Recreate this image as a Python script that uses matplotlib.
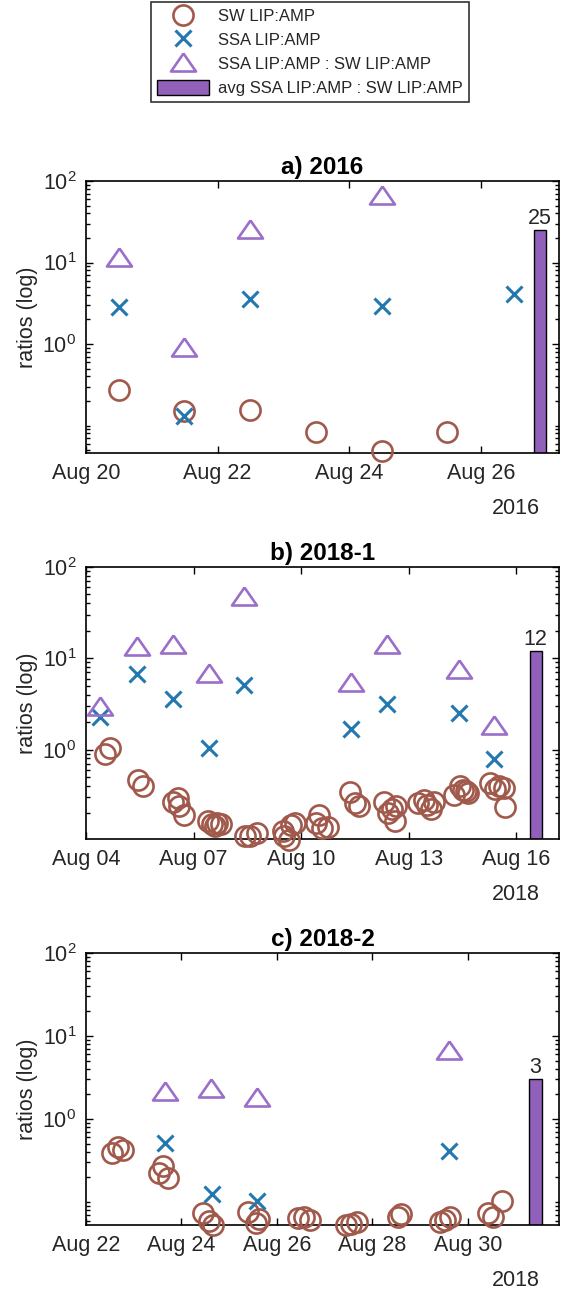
from matplotlib import pyplot as plt
from matplotlib import dates as mdates
from matplotlib.lines import Line2D
from matplotlib.patches import Patch
from matplotlib.ticker import FixedLocator, LogLocator, LogFormatterSciNotation, NullFormatter
import datetime as dt

plt.rcParams['font.family'] = ['Liberation Sans', 'DejaVu Sans']
plt.rcParams['mathtext.fontset'] = 'custom'
plt.rcParams['mathtext.rm'] = 'Liberation Sans'
plt.rcParams['mathtext.it'] = 'Liberation Sans'

# All days are fractional days of August
# a) 2016
swDays2016 = [20.50, 21.49, 22.50, 23.49, 24.50, 25.49]
swRatios2016 = [0.27, 0.15, 0.154, 0.084, 0.048, 0.084]
ssaDays2016 = [20.50, 21.49, 22.50, 24.50, 26.50]
ssaRatios2016 = [2.85, 0.132, 3.53, 2.93, 4.06]
enrichDays2016 = [20.50, 21.49, 22.50, 24.50]
enrichRatios2016 = [11.6, 0.91, 25.6, 68.0]
avgEnrich2016 = 25
tickDays2016 = [20, 22, 24, 26]

# b) 2018-1
swDays2018a = [4.53, 4.67, 5.44, 5.59, 6.42, 6.56, 6.59, 6.74,
               7.39, 7.52, 7.59, 7.66, 7.77, 8.43, 8.58, 8.76,
               9.48, 9.53, 9.66, 9.73, 9.83, 10.42, 10.50, 10.57, 10.75,
               11.37, 11.50, 11.62, 12.32, 12.42, 12.52, 12.65, 12.62,
               13.27, 13.42, 13.50, 13.61, 13.70, 14.26, 14.43, 14.51, 14.59, 14.66,
               15.26, 15.41, 15.51, 15.66, 15.69]
swRatios2018a = [0.90, 1.03, 0.46, 0.40, 0.27, 0.296, 0.24, 0.194,
                 0.164, 0.155, 0.147, 0.157, 0.153, 0.114, 0.112, 0.122,
                 0.127, 0.112, 0.103, 0.151, 0.157, 0.157, 0.19, 0.139, 0.141,
                 0.34, 0.26, 0.24, 0.27, 0.203, 0.224, 0.244, 0.164,
                 0.26, 0.28, 0.25, 0.224, 0.265, 0.32, 0.40, 0.365, 0.35, 0.335,
                 0.43, 0.37, 0.40, 0.38, 0.236]
ssaDays2018a = [4.40, 5.42, 6.42, 7.44, 8.41, 11.40, 12.40, 14.39, 15.39]
ssaRatios2018a = [2.26, 6.74, 3.62, 1.03, 5.15, 1.70, 3.19, 2.52, 0.78]
enrichDays2018a = [4.40, 5.42, 6.42, 7.44, 8.41, 11.40, 12.40, 14.39, 15.39]
enrichRatios2018a = [2.98, 13.5, 14.5, 6.9, 47.7, 5.46, 14.4, 7.64, 1.88]
avgEnrich2018a = 12
tickDays2018a = [4, 7, 10, 13, 16]

# c) 2018-2
swDays2018b = [22.55, 22.67, 22.77, 23.53, 23.61, 23.71, 24.45, 24.57, 24.67,
               25.39, 25.56, 25.63, 26.44, 26.56, 26.70, 27.45, 27.56, 27.67,
               28.53, 28.60, 29.41, 29.52, 29.63, 30.42, 30.53, 30.72]
swRatios2018b = [0.39, 0.46, 0.42, 0.227, 0.274, 0.194, 0.074, 0.060, 0.053,
                 0.077, 0.056, 0.062, 0.064, 0.066, 0.061, 0.053, 0.055, 0.057,
                 0.066, 0.072, 0.057, 0.061, 0.066, 0.074, 0.066, 0.104]
ssaDays2018b = [23.65, 24.64, 25.58, 29.60]
ssaRatios2018b = [0.51, 0.125, 0.102, 0.41]
enrichDays2018b = [23.65, 24.62, 25.58, 29.60]
enrichRatios2018b = [2.19, 2.36, 1.82, 6.84]
avgEnrich2018b = 3
tickDays2018b = [22, 24, 26, 28, 30]

swColor = '#a0594b'
ssaColor = '#2478b0'
enrichColor = '#9b6fc9'
barColor = '#9160ba'
textColor = '#262626'

triangle = [(0, 0.72), (-1, -0.72), (1, -0.72), (0, 0.72)]


def toDates(year, days):
    start = dt.datetime(year, 8, 1)
    return [mdates.date2num(start + dt.timedelta(days=d - 1)) for d in days]


def chartCruise(ax, year, title, swDays, swRatios, ssaDays, ssaRatios,
                enrichDays, enrichRatios, avgEnrich, barDay, barWidth,
                tickDays, dayRange, yMin):
    ax.plot(toDates(year, swDays), swRatios, ls='none', marker='o', ms=14.5,
            mfc='none', mec=swColor, mew=1.9, clip_on=False, zorder=3)
    ax.plot(toDates(year, ssaDays), ssaRatios, ls='none', marker='x', ms=11,
            mec=ssaColor, mew=2.2, clip_on=False, zorder=3)
    ax.plot(toDates(year, enrichDays), enrichRatios, ls='none', marker=triangle,
            ms=18, mfc='none', mec=enrichColor, mew=1.9, clip_on=False, zorder=3)

    # average enrichment bar, standing on the bottom of the log axis
    barX = toDates(year, [barDay])[0]
    ax.bar(barX, avgEnrich, width=barWidth, bottom=1e-3, color=barColor,
           edgecolor='black', linewidth=1.0, zorder=2)
    ax.annotate(f'{avgEnrich:g}', (barX, avgEnrich), xytext=(0, 1),
                textcoords='offset points', ha='center', va='bottom',
                fontsize=15.5, color=textColor)

    ax.set_yscale('log')
    ax.set_ylim(yMin, 100)
    ax.yaxis.set_major_locator(FixedLocator([1, 10, 100]))
    ax.yaxis.set_major_formatter(LogFormatterSciNotation())
    ax.yaxis.set_minor_locator(LogLocator(base=10, subs=range(1, 10), numticks=20))
    ax.yaxis.set_minor_formatter(NullFormatter())

    start, end = toDates(year, dayRange)
    ax.set_xlim(start, end)
    ax.xaxis.set_major_locator(FixedLocator(toDates(year, tickDays)))
    ax.xaxis.set_major_formatter(mdates.DateFormatter('%b %d'))

    ax.tick_params(which='both', direction='in', top=True, right=True,
                   labelsize=15.5, labelcolor=textColor, width=1.0)
    ax.tick_params(which='major', length=5, pad=7)
    ax.tick_params(which='minor', length=3)
    for spine in ax.spines.values():
        spine.set_linewidth(1.2)

    ax.set_ylabel('ratios (log)', fontsize=15.5, color=textColor, labelpad=3)
    ax.set_title(title, fontsize=17.5, fontweight='bold', pad=5)
    ax.annotate(str(year), (0.96, 0), xycoords='axes fraction', xytext=(0, -40),
                textcoords='offset points', ha='right', va='center',
                fontsize=15.5, color=textColor)


fig = plt.figure(figsize=(5.61, 12.91), dpi=100)
axLeft = 86 / 561
axWidth = 473 / 561
axHeight = 272 / 1291

ax1 = fig.add_axes([axLeft, 1 - 453 / 1291, axWidth, axHeight])
ax2 = fig.add_axes([axLeft, 1 - 839 / 1291, axWidth, axHeight])
ax3 = fig.add_axes([axLeft, 1 - 1225 / 1291, axWidth, axHeight])

chartCruise(ax1, 2016, 'a) 2016', swDays2016, swRatios2016, ssaDays2016, ssaRatios2016,
            enrichDays2016, enrichRatios2016, avgEnrich2016, 26.90, 0.19,
            tickDays2016, [20, 27.19], 0.046)
chartCruise(ax2, 2018, 'b) 2018-1', swDays2018a, swRatios2018a, ssaDays2018a, ssaRatios2018a,
            enrichDays2018a, enrichRatios2018a, avgEnrich2018a, 16.54, 0.33,
            tickDays2018a, [4, 17.19], 0.105)
chartCruise(ax3, 2018, 'c) 2018-2', swDays2018b, swRatios2018b, ssaDays2018b, ssaRatios2018b,
            enrichDays2018b, enrichRatios2018b, avgEnrich2018b, 31.42, 0.28,
            tickDays2018b, [22, 31.91], 0.053)

handles = [
    Line2D([], [], ls='none', marker='o', ms=14.5, mfc='none', mec=swColor, mew=1.9),
    Line2D([], [], ls='none', marker='x', ms=11, mec=ssaColor, mew=2.2),
    Line2D([], [], ls='none', marker=triangle, ms=18, mfc='none', mec=enrichColor, mew=1.9),
    Patch(facecolor=barColor, edgecolor='black', linewidth=1.0),
]
labels = ['SW LIP:AMP', 'SSA LIP:AMP', 'SSA LIP:AMP : SW LIP:AMP', 'avg SSA LIP:AMP : SW LIP:AMP']
leg = fig.legend(handles, labels, loc='upper left', bbox_to_anchor=(151 / 561, 1 - 2 / 1291),
                 frameon=True, fancybox=False, edgecolor='black', fontsize=12,
                 handlelength=3.1, handleheight=1.05, handletextpad=0.6,
                 borderpad=0.35, labelspacing=0.45, borderaxespad=0)
leg.get_frame().set_linewidth(1.2)
for text in leg.get_texts():
    text.set_color(textColor)

fig.savefig('out.png', dpi=100)
